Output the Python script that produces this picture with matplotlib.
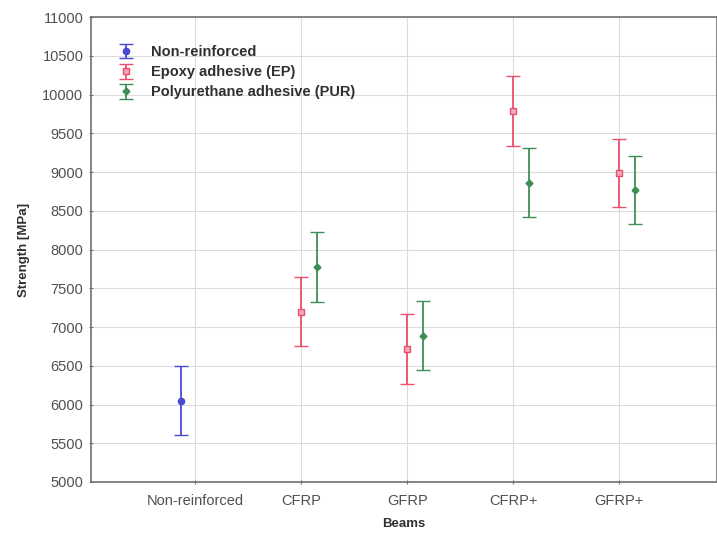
import matplotlib
matplotlib.use("Agg")
import matplotlib.pyplot as plt
import numpy as np

plt.rcParams['font.family'] = ['Liberation Sans', 'DejaVu Sans']

categories = ["Non-reinforced", "CFRP", "GFRP", "CFRP+", "GFRP+"]
series_names = ["Non-reinforced", "Epoxy adhesive (EP)", "Polyurethane adhesive (PUR)"]

# (category index, mean, half-error)
nonreinf_idx = [0]
nonreinf_mean = [6050]
nonreinf_err = [445]

ep_idx = [1, 2, 3, 4]
ep_mean = [7200, 6720, 9790, 8985]
ep_err = [440, 450, 450, 441]

pur_idx = [1, 2, 3, 4]
pur_mean = [7780, 6890, 8865, 8770]
pur_err = [450, 447, 442, 443]

yticks = list(range(5000, 11001, 500))

fig = plt.figure(figsize=(7.17, 5.33), dpi=100)
ax = fig.add_axes([0.127, 0.0957, 0.873, 0.872])

x_pos = np.arange(1, len(categories) + 1)

blue = "#4a4ad0"
red = "#e8506e"
green = "#3f8f55"

ax.errorbar(np.array(nonreinf_idx) + 1 - 0.13, nonreinf_mean, yerr=nonreinf_err,
            fmt='o', color=blue, ecolor=blue, markersize=4.5, capsize=5,
            elinewidth=1.3, capthick=1.0, label=series_names[0])
ax.errorbar(np.array(ep_idx) + 1, ep_mean, yerr=ep_err,
            fmt='s', color=red, ecolor=red, markersize=5, markerfacecolor='#f6a8b8',
            markeredgecolor=red, capsize=5, elinewidth=1.3, capthick=1.0,
            label=series_names[1])
ax.errorbar(np.array(pur_idx) + 1 + 0.15, pur_mean, yerr=pur_err,
            fmt='D', color=green, ecolor=green, markersize=3.5, capsize=5,
            elinewidth=1.3, capthick=1.0, label=series_names[2])

ax.set_xlim(0.02, 5.92)
ax.set_ylim(5000, 11000)
ax.set_xticks(x_pos)
ax.set_xticklabels(categories)
ax.set_yticks(yticks)
ax.set_yticklabels([str(v) for v in yticks])

ax.grid(True, color="#dcdcdc", linewidth=0.8)
ax.set_axisbelow(True)
for s in ax.spines.values():
    s.set_color("#707070")
    s.set_linewidth(1.2)
ax.tick_params(axis='both', colors="#707070", labelcolor="#505050", labelsize=10.5,
               length=3, direction='inout')
ax.tick_params(axis='x', pad=7)
ax.tick_params(axis='y', pad=4)

ax.set_xlabel("Beams", fontsize=9.5, fontweight='bold', color="#303030", labelpad=7)
ax.set_ylabel("Strength [MPa]", fontsize=9.5, fontweight='bold', color="#303030", labelpad=9)

leg = ax.legend(loc='upper left', bbox_to_anchor=(0.01, 0.968), frameon=False,
                prop={'weight': 'bold', 'size': 10.5}, handlelength=2.2,
                labelspacing=0.42, handletextpad=0.55)
for t in leg.get_texts():
    t.set_color("#303030")

fig.savefig("out.png", dpi=100)
